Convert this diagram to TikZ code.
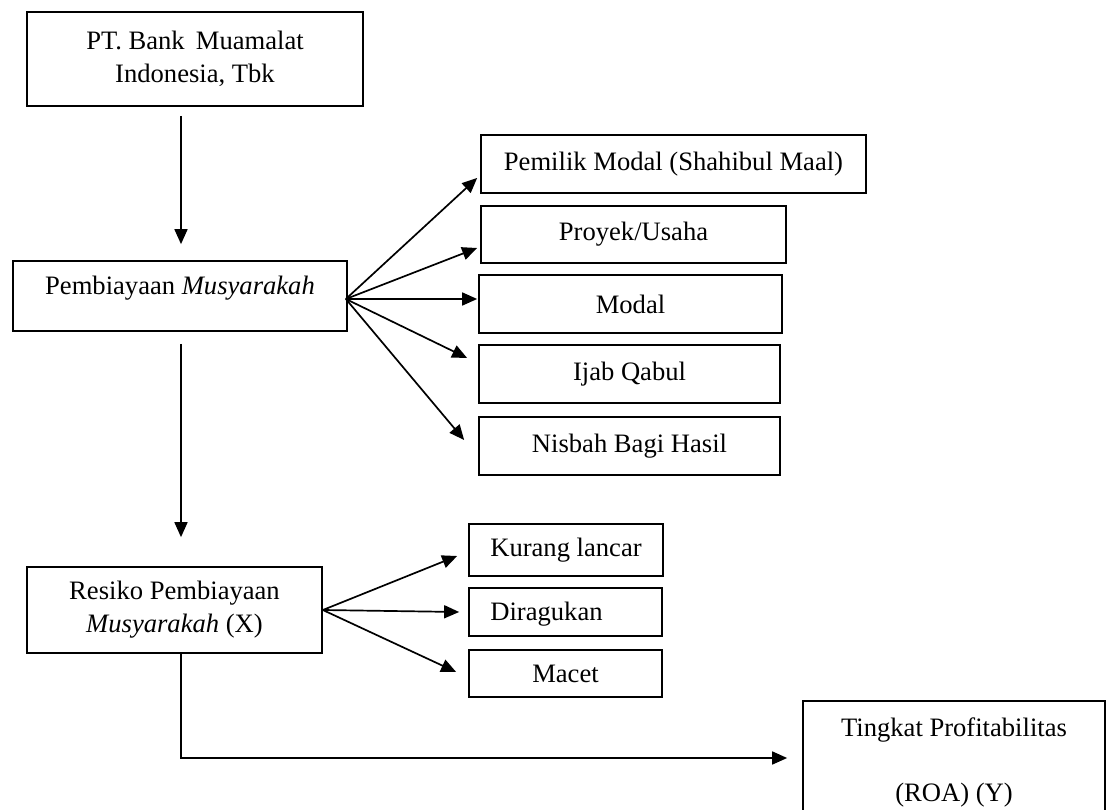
\documentclass[tikz,border=0pt]{standalone}
\usepackage{fontspec}
\setmainfont{Liberation Serif}
\usetikzlibrary{arrows.meta,calc}
\begin{document}
\begin{tikzpicture}[x=1pt,y=-1pt,
  box/.style={draw,line width=1.7pt,rectangle,inner sep=0pt,align=center,
    font=\fontsize{26.6pt}{33pt}\selectfont},
  arr/.style={line width=1.7pt,-{Triangle[length=15pt,width=13pt]}}]
\clip (0,0) rectangle (1113,810);
\fill[white] (0,0) rectangle (1113,810);
\node[box,minimum width=336pt,minimum height=94pt] (b1) at (195,59) {PT. Bank\, Muamalat\\Indonesia, Tbk};
\node[box,minimum width=334pt,minimum height=70pt] (b2) at (180,296) {\raisebox{8pt}[\height][\depth]{Pembiayaan \textit{Musyarakah}}};
\node[box,minimum width=295pt,minimum height=86pt] (b3) at (174.5,610) {Resiko Pembiayaan\\\textit{Musyarakah} (X)};
\node[box,minimum width=385pt,minimum height=58pt] (p1) at (673.5,164) {Pemilik Modal (Shahibul Maal)};
\node[box,minimum width=305pt,minimum height=57pt] (p2) at (633.5,234.5) {Proyek/Usaha};
\node[box,minimum width=303pt,minimum height=58pt] (p3) at (630.5,304) {Modal};
\node[box,minimum width=301pt,minimum height=58pt] (p4) at (629.5,374) {Ijab Qabul};
\node[box,minimum width=301pt,minimum height=58pt] (p5) at (629.5,446) {Nisbah Bagi Hasil};
\node[box,minimum width=194pt,minimum height=52pt] (r1) at (566,550) {Kurang lancar};
\node[box,minimum width=193pt,minimum height=48pt] (r2) at (565.5,612) {\hspace*{-38pt}\raisebox{-2pt}[\height][\depth]{Diragukan}};
\node[box,minimum width=193pt,minimum height=47pt] (r3) at (565.5,673.5) {Macet};
\node[box,minimum width=302pt,minimum height=123pt] (t) at (954,762.5) {Tingkat Profitabilitas\\[32pt](ROA) (Y)};
% vertical arrows
\draw[arr] ($(b1.south)+(-14,9)$) -- ($(b2.north)+(1,-16)$);
\draw[arr] ($(b2.south)+(1,12)$) -- ($(b3.north)+(6.5,-29)$);
% fan from b2
\coordinate (f2) at ($(b2.east)+(-2,3)$);
\draw[arr] (f2) -- ($(p1.west)+(-3,14)$);
\draw[arr] (f2) -- ($(p2.west)+(-3,13.5)$);
\draw[arr] (f2) -- ($(p3.west)+(-1,-5)$);
\draw[arr] (f2) -- ($(p4.west)+(-11,-16)$);
\draw[arr] (f2) -- ($(p5.west)+(-14,-6)$);
% fan from b3
\coordinate (f3) at (b3.east);
\draw[arr] (f3) -- ($(r1.west)+(-11,6)$);
\draw[arr] (f3) -- ($(r2.west)+(-9,0)$);
\draw[arr] (f3) -- ($(r3.west)+(-12,-1.5)$);
% L-shaped connector
\draw[arr] ($(b3.south)+(6.5,0)$) |- ($(t.west)+(-15,-4.5)$);
\end{tikzpicture}
\end{document}
